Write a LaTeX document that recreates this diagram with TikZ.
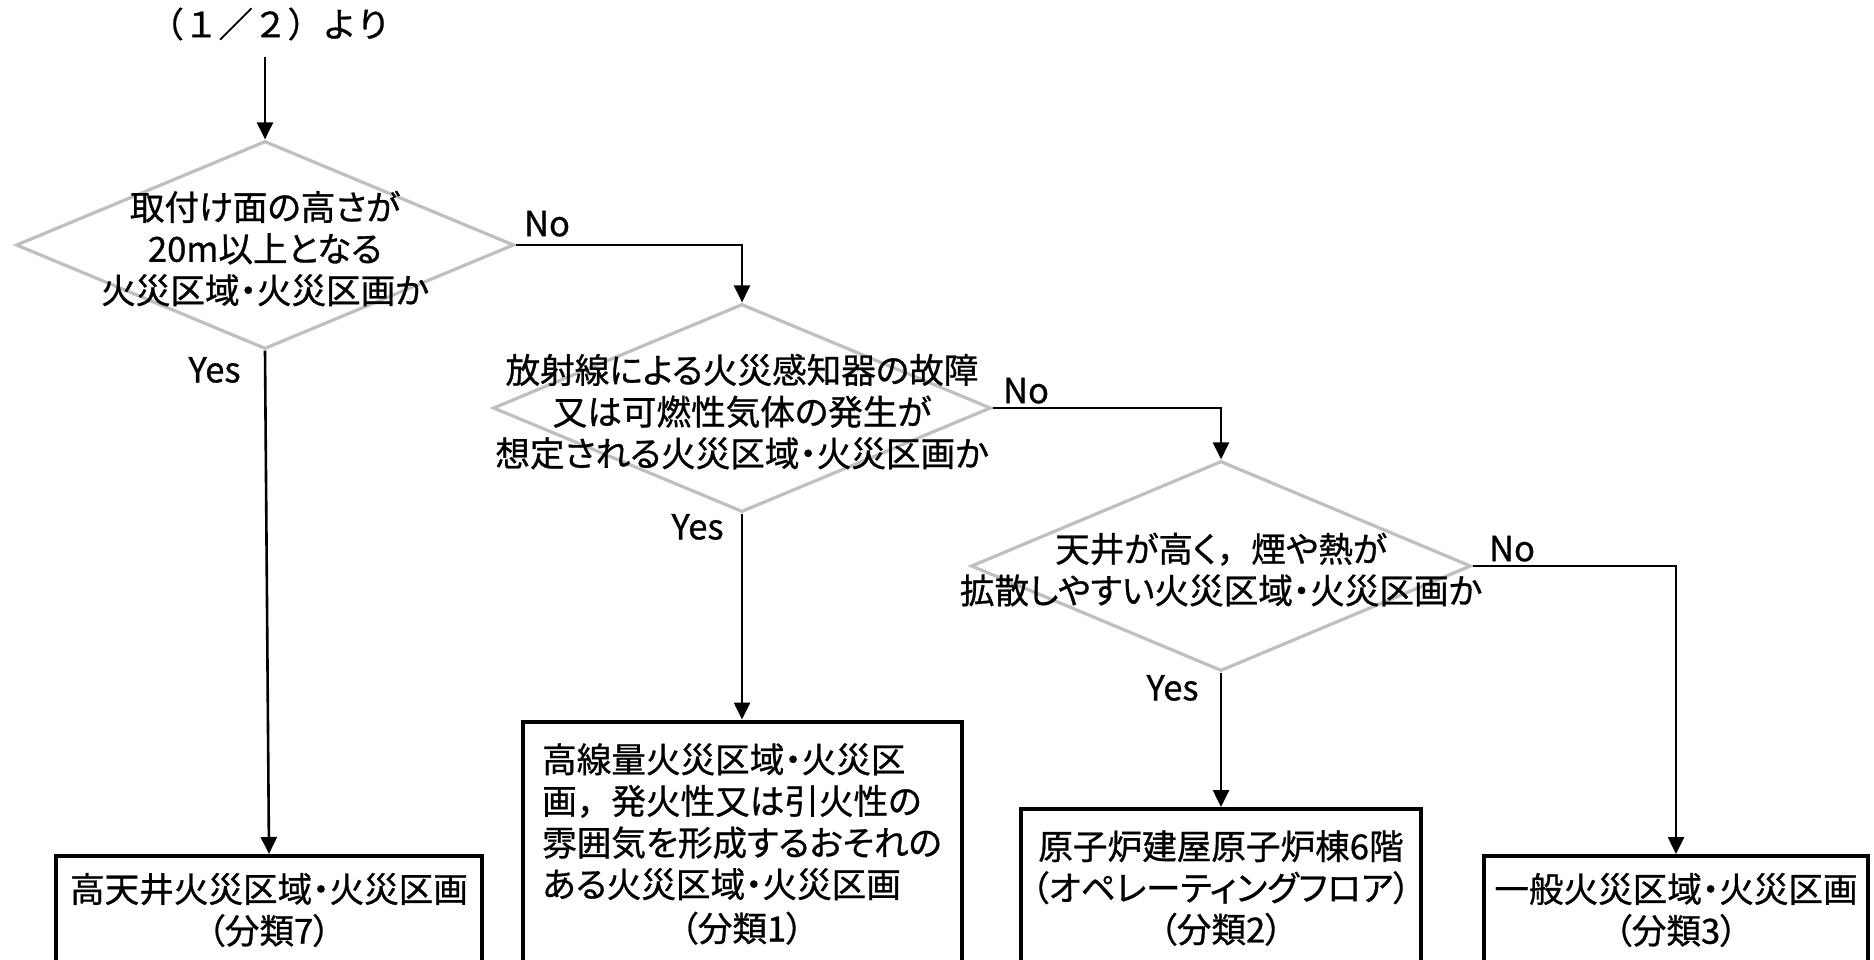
\documentclass[tikz,border=0pt]{standalone}
\usepackage{fontspec}
\newfontfamily\jpfont[RawFeature=+palt, FakeBold=0.8]{Noto Sans CJK JP}
\newfontfamily\jpfull[FakeBold=0.8]{Noto Sans CJK JP}
\usetikzlibrary{shapes.geometric}
\usetikzlibrary{arrows.meta}
\usetikzlibrary{positioning}
\definecolor{dgray}{RGB}{191,191,191}
\newcommand{\dectext}[1]{\makebox[0pt]{\smash{\raisebox{-8.5pt}{\begin{tabular}{@{}c@{}}#1\end{tabular}}}}}

\begin{document}
\begin{tikzpicture}[x=0.5pt, y=-0.5pt,
                every node/.style={font=\jpfont\fontsize{17.3}{20.8}\selectfont},
                decision/.style={diamond, draw=dgray, line width=1.6pt, inner sep=0pt, minimum width=249pt, minimum height=104pt},
                result/.style={rectangle, draw=black, line width=2pt, align=center},
                lbl/.style={inner sep=0pt},
                arr/.style={-{Triangle[length=8.5pt,width=8pt]}, line width=1.3pt}]
                \useasboundingbox (0,0) rectangle (1874,959);
                \clip (0,0) rectangle (1874,959);

                \node[lbl, inner sep=8pt] (title) at (270,24) {\jpfull （１／２）より};
                \node[decision] (d1) at (265,245) {\dectext{取付け面の高さが\\20m以上となる\\火災区域・火災区画か}};
                \node[decision] (d2) at (742,408) {\dectext{放射線による火災感知器の故障\\又は可燃性気体の発生が\\想定される火災区域・火災区画か}};
                \node[decision, minimum width=250pt, minimum height=105pt] (d3) at (1221,566) {\dectext{天井が高く{\jpfull ，}煙や熱が\\拡散しやすい火災区域・火災区画か}};

                \node[result, minimum width=213pt, minimum height=54pt] (c7) at (269,910) {高天井火災区域・火災区画\\（分類7）};
                \node[result, minimum width=219.5pt, minimum height=122.5pt] (c1) at (742,844) {\begin{tabular}[b]{@{}l@{}}高線量火災区域・火災区\\画{\jpfull ，}発火性又は引火性の\\雰囲気を形成するおそれの\\ある火災区域・火災区画\end{tabular}\\（分類1）};
                \node[result, minimum width=200pt, minimum height=79pt] (c2) at (1221,888) {原子炉建屋原子炉棟6階\\（オペレーティングフロア）\\（分類2）};
                \node[result, minimum width=192pt, minimum height=54pt] (c3) at (1676,910) {一般火災区域・火災区画\\（分類3）};

                \draw[arr] (title.south -| d1.north) -- (d1.north);
                \draw[arr] (d1.east) -| (d2.north);
                \draw[arr] (d1.south) -- (c7.north);
                \draw[arr] (d2.east) -| (d3.north);
                \draw[arr] (d2.south) -- (c1.north);
                \draw[arr] (d3.south) -- (c2.north);
                \draw[arr] (d3.east) -| (c3.north);

                \node[lbl, above right=4pt and 4pt of d1.east] (no1) {No};
                \node[lbl, above right=2pt and 5pt of d2.east] (no2) {No};
                \node[lbl, above right=2pt and 8pt of d3.east] (no3) {No};
                \node[lbl, below left=3pt and 12pt of d1.south] (yes1) {Yes};
                \node[lbl, below left=0pt and 9pt of d2.south] (yes2) {Yes};
                \node[lbl, below left=1pt and 11pt of d3.south] (yes3) {Yes};
            \end{tikzpicture}
\end{document}
